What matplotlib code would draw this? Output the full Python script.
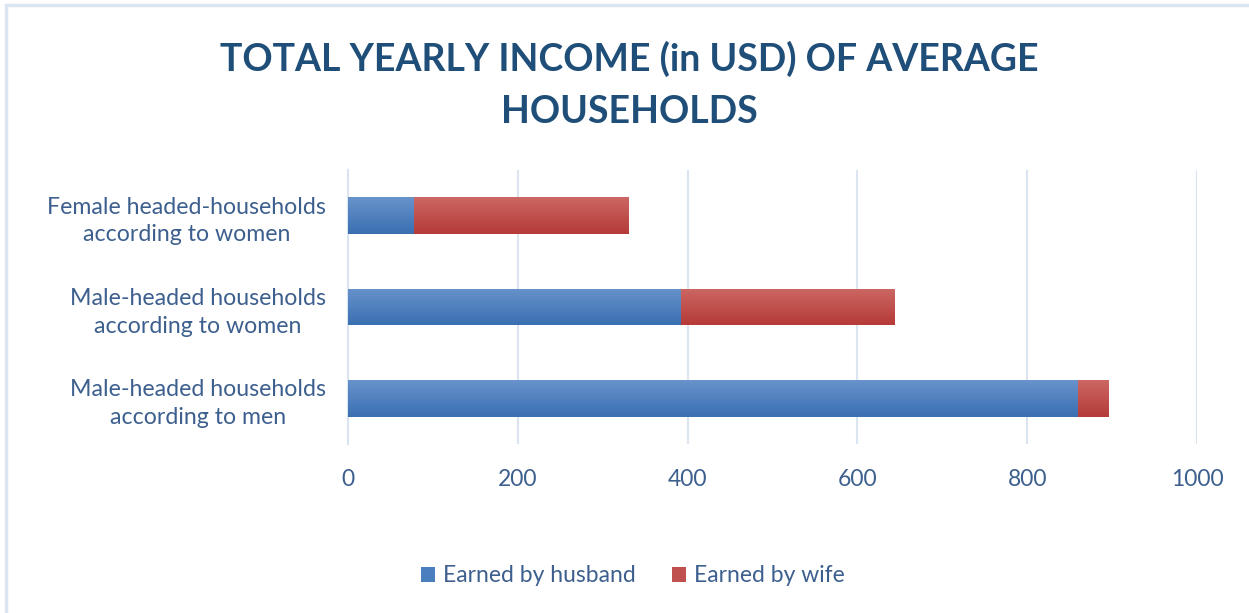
import matplotlib.pyplot as plt
import numpy as np
from matplotlib.colors import LinearSegmentedColormap
from matplotlib.patches import Rectangle

categories = [
    "Male-headed households\naccording to men",
    "Male-headed households\naccording to women",
    "Female headed-households\naccording to women",
]
husband = [860, 392, 78]
wife = [36, 252, 253]
x_ticks = [0, 200, 400, 600, 800, 1000]

text_color = "#3d5f8e"
blue = "#4a7ebf"
red = "#c0504d"
grid_color = "#dbe5f1"

plt.rcParams["font.family"] = ["Lato", "DejaVu Sans"]

fig = plt.figure(figsize=(12.49, 6.13), dpi=100)
W, H = 1249, 613
# axes placed in pixel terms of the reference
left, right, top, bottom = 348, 1197, 170, 444
ax = fig.add_axes([left / W, 1 - bottom / H, (right - left) / W, (bottom - top) / H])

# light blue chart frame
fig.patches.append(Rectangle((6 / W, -0.05), 1.2, 1 - 5 / H + 0.05, transform=fig.transFigure,
                             fill=False, edgecolor=grid_color, linewidth=2.5))

y = np.arange(len(categories))
b1 = ax.barh(y, husband, height=0.4, color=blue, label="Earned by husband", zorder=3)
b2 = ax.barh(y, wife, height=0.4, left=husband, color=red, label="Earned by wife", zorder=3)

# vertical gradient on the bars (lighter top, darker bottom)
grad = np.linspace(0, 1, 64).reshape(-1, 1)
cm_blue = LinearSegmentedColormap.from_list("b", ["#3a6fb2", "#6893cb"])
cm_red = LinearSegmentedColormap.from_list("r", ["#b53b38", "#cc6763"])
for bars, cm in [(b1, cm_blue), (b2, cm_red)]:
    for bar in bars:
        x0, y0 = bar.get_x(), bar.get_y()
        w, h = bar.get_width(), bar.get_height()
        im = ax.imshow(grad, cmap=cm, aspect="auto", origin="lower",
                       extent=(x0, x0 + w, y0, y0 + h), zorder=4)
        im.set_clip_path(bar)

ax.set_xlim(0, 1000)
ax.set_ylim(-0.5, 2.5)
ax.set_xticks(x_ticks)
ax.set_yticks(y)
ax.set_yticklabels(categories, ha="right", multialignment="center", linespacing=1.4)
ax.tick_params(axis="y", length=0, pad=16, labelsize=16.7, colors=text_color)
ax.tick_params(axis="x", length=0, pad=18, labelsize=16.5, colors=text_color)
ax.grid(axis="x", color=grid_color, linewidth=1.5, zorder=0)
for side in ["top", "right", "bottom"]:
    ax.spines[side].set_visible(False)
ax.spines["left"].set_color(grid_color)
ax.spines["left"].set_linewidth(1.5)

fig.text(629 / W, 1 - 85 / H, "TOTAL YEARLY INCOME (in USD) OF AVERAGE\nHOUSEHOLDS",
         ha="center", va="center", fontsize=27, fontweight="bold", color="#1f4e79",
         linespacing=1.65)

fig.legend(loc="center", bbox_to_anchor=(633 / W, 1 - 576 / H), ncol=2, frameon=False,
           fontsize=16.5, labelcolor=text_color, handlelength=0.6, handleheight=0.6,
           handletextpad=0.35, columnspacing=1.6)

fig.savefig("out.png", dpi=100)
